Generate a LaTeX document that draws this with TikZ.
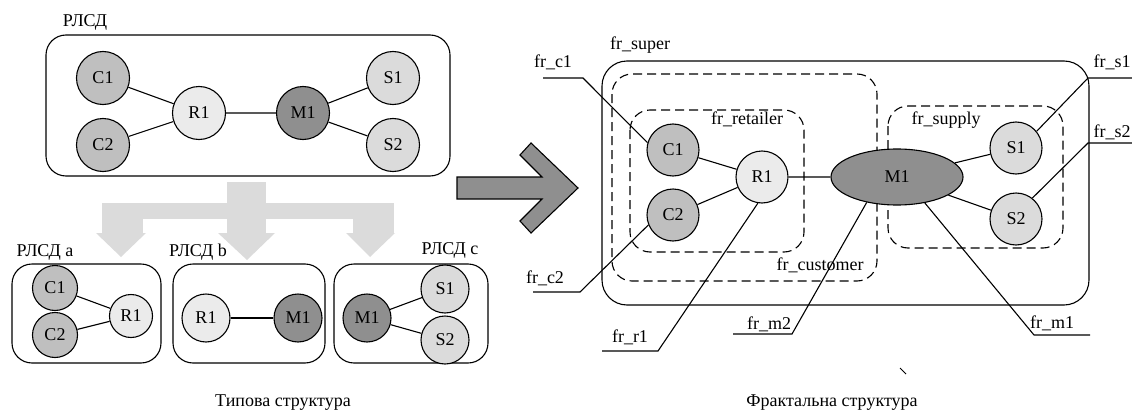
\documentclass[tikz,border=0pt]{standalone}
\usepackage{fontspec}
\setmainfont{Liberation Serif}
\usetikzlibrary{shapes.geometric}

\definecolor{custgray}{gray}{0.75}
\definecolor{retgray}{gray}{0.92}
\definecolor{mangray}{gray}{0.56}
\definecolor{supgray}{gray}{0.86}
\definecolor{splitgray}{gray}{0.86}

\begin{document}
\begin{tikzpicture}[x=1pt,y=-1pt,line width=1.1pt,
    every node/.style={font=\fontsize{18}{21}\selectfont},
    agent/.style={circle,draw,inner sep=0pt,minimum size=#1},
    agent/.default=53pt,
    frame/.style={rounded corners=20pt},
    dframe/.style={rounded corners=20pt,dash pattern=on 9pt off 5pt}]

    \useasboundingbox (0,0) rectangle (1132,412);

    % typical structure
    \draw[frame] (46,35) rectangle (450,176);
    \node (tl) at (85,22) {РЛСД};
    \node[agent,fill=custgray] (C1) at (103,78) {C1};
    \node[agent,fill=custgray] (C2) at (103,145) {C2};
    \node[agent,fill=retgray] (R1) at (199,113) {R1};
    \node[agent,fill=mangray] (M1) at (303,113) {M1};
    \node[agent,fill=supgray] (S1) at (393,78) {S1};
    \node[agent,fill=supgray] (S2) at (393,145) {S2};
    \draw (C1) -- (R1) (C2) -- (R1) (R1) -- (M1) (M1) -- (S1) (M1) -- (S2);

    % split arrow
    \begin{scope}[splitgray]
      \fill (227,182) rectangle (266,233);
      \fill (102,203) rectangle (394,219);
      \fill (102,203) rectangle (143,233);
      \fill (353,203) rectangle (394,233);
      \fill (96,233) -- (146,233) -- (121,257) -- cycle;
      \fill (218,233) -- (275,233) -- (247,260) -- cycle;
      \fill (346,233) -- (395,233) -- (370,257) -- cycle;
    \end{scope}

    \begin{scope}
      \draw[frame] (12,264) rectangle (161,363);
      \node (la) at (45,252) {РЛСД a};
      \node[agent=45pt,fill=custgray] (aC1) at (55,288) {C1};
      \node[agent=45pt,fill=custgray] (aC2) at (55,335) {C2};
      \node[agent=43pt,fill=retgray] (aR1) at (131,316) {R1};
      \draw (aC1) -- (aR1) (aC2) -- (aR1);
    \end{scope}

    \begin{scope}
      \draw[frame] (173,264) rectangle (325,363);
      \node (lb) at (198,252) {РЛСД b};
      \node[agent=48pt,fill=retgray] (bR1) at (206,318) {R1};
      \node[agent=48pt,fill=mangray] (bM1) at (298,318) {M1};
      \draw (bR1) -- (bM1);
    \end{scope}

    \begin{scope}
      \draw[frame] (334,264) rectangle (488,363);
      \node (lc) at (450,250) {РЛСД c};
      \node[agent=48pt,fill=mangray] (cM1) at (367,318) {M1};
      \node[agent=48pt,fill=supgray] (cS1) at (445,289) {S1};
      \node[agent=48pt,fill=supgray] (cS2) at (445,340) {S2};
      \draw (cM1) -- (cS1) (cM1) -- (cS2);
    \end{scope}

    \node (cap1) at (283,403) {Типова структура};

    % transition arrow
    \draw[fill=mangray] (457,177) -- (542,177) -- (520,155) -- (531,143) -- (578,188)
      -- (531,233) -- (520,221) -- (542,199) -- (457,199) -- cycle;

    % fractal structure
    \draw[frame,rounded corners=25pt] (602,61) rectangle (1089,305);
    \draw[dframe] (612,74) rectangle (877,281);
    \draw[dframe] (630,110) rectangle (804,252);
    \draw[dframe] (888,106) rectangle (1063,248);

    \node (fsup) at (640,45) {fr\_super};
    \node (fcus) at (820,265) {fr\_customer};
    \node[fill=white,inner sep=1pt] (fret) at (747,119) {fr\_retailer};
    \node (fsupl) at (946,120) {fr\_supply};

    \node[agent=52pt,fill=custgray] (fC1) at (673,150) {C1};
    \node[agent=52pt,fill=custgray] (fC2) at (673,215) {C2};
    \node[agent=52pt,fill=retgray] (fR1) at (762,177) {R1};
    \node[ellipse,draw,fill=mangray,inner sep=0pt,minimum width=132pt,minimum height=56pt] (fM1) at (897,177) {M1};
    \node[agent=52pt,fill=supgray] (fS1) at (1016,148) {S1};
    \node[agent=52pt,fill=supgray] (fS2) at (1016,219) {S2};
    \draw (fC1) -- (fR1) (fC2) -- (fR1) (fR1) -- (fM1) (fM1) -- (fS1) (fM1) -- (fS2);

    % fractal labels
    \node (lc1) at (553,62) {fr\_c1};
    \coordinate (uc1) at (543,78);
    \coordinate (kc1) at (583,78);
    \draw (uc1) -- (kc1) -- (fC1.164);

    \node (lc2) at (545,278) {fr\_c2};
    \coordinate (uc2) at (533,292);
    \coordinate (kc2) at (580,292);
    \draw (uc2) -- (kc2) -- (fC2.202);

    \node (lr1) at (630,337) {fr\_r1};
    \coordinate (ur1) at (602,351);
    \coordinate (kr1) at (658,351);
    \draw (ur1) -- (kr1) -- (fR1.261);

    \node (lm2) at (769,324) {fr\_m2};
    \coordinate (um2) at (733,334);
    \coordinate (km2) at (792,334);
    \draw (um2) -- (km2) -- (fM1.220);

    \node (lm1) at (1052,323) {fr\_m1};
    \coordinate (um1) at (1090,335);
    \coordinate (km1) at (1034,335);
    \draw (um1) -- (km1) -- (fM1.317);

    \node (ls1) at (1112,62) {fr\_s1};
    \coordinate (us1) at (1132,78);
    \coordinate (ks1) at (1088,78);
    \draw (us1) -- (ks1) -- (fS1.39);

    \node (ls2) at (1112,132) {fr\_s2};
    \coordinate (us2) at (1132,143);
    \coordinate (ks2) at (1088,143);
    \draw (us2) -- (ks2) -- (fS2.52);

    \draw[line width=0.8pt] (900,368) -- (906,374);
    \node (cap2) at (832,403) {Фрактальна структура};

  \end{tikzpicture}
\end{document}
